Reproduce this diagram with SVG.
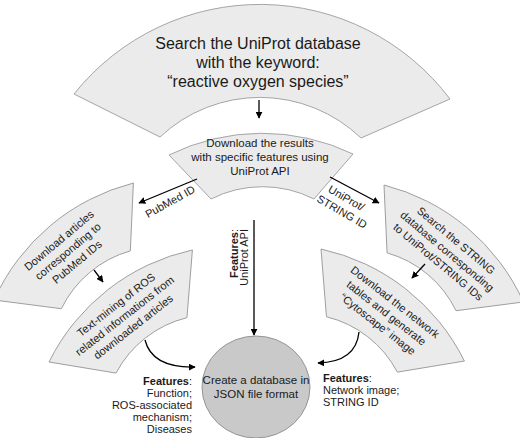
<svg xmlns="http://www.w3.org/2000/svg" width="520" height="438" viewBox="0 0 520 438">
<defs>
<style>
.shape{fill:#ebebeb;stroke:#9c9c9c;stroke-width:0.9}
.db{fill:#c9c9c9;stroke:#8c8c8c;stroke-width:0.9}
.t{font-family:"Liberation Sans",Arial,sans-serif;fill:#1a1a1a}
.big{font-size:16px;text-anchor:middle}
.mid{font-size:11.5px;text-anchor:middle}
.sm{font-size:11px;text-anchor:middle}
.lab{font-size:11px}
.b{font-weight:bold}
.c{fill:none;stroke:#000;stroke-width:1.3}
</style>
<marker id="ah" viewBox="0 0 10 10" refX="9" refY="5" markerWidth="7" markerHeight="7" markerUnits="userSpaceOnUse" orient="auto">
<path d="M0,0 L10,5 L0,10 Z" fill="#000"/>
</marker>
<path id="side" d="M0,0 A210,210 0 0 1 182,0 L136,50 A110,110 0 0 0 46,50 Z"/>
</defs>
<rect width="520" height="438" fill="#fff"/>

<g id="search">
<path class="shape" d="M74,94 A238,238 0 0 1 450,99 L361,138 A146,146 0 0 0 160,137 Z"/>
<text class="t big" x="258" y="49">Search the UniProt database</text>
<text class="t big" x="258" y="68">with the keyword:</text>
<text class="t big" x="258" y="87">“reactive oxygen species”</text>
</g>

<g id="download">
<path class="shape" d="M169,155 A210,210 0 0 1 353,154 L314,199 A114,114 0 0 0 211,199 Z"/>
<text class="t mid" x="260" y="147">Download the results</text>
<text class="t mid" x="260" y="161">with specific features using</text>
<text class="t mid" x="260" y="175">UniProt API</text>
</g>

<g id="articles" transform="translate(-6,300) rotate(-40)">
<use href="#side" class="shape"/>
<text class="t sm" x="88" y="0">Download articles</text>
<text class="t sm" x="88" y="14">corresponding to</text>
<text class="t sm" x="88" y="28">PubMed IDs</text>
</g>

<g id="textmining" transform="translate(49,362) rotate(-38)">
<use href="#side" class="shape"/>
<text class="t sm" x="88" y="0">Text-mining of ROS</text>
<text class="t sm" x="88" y="14">related informations from</text>
<text class="t sm" x="88" y="28">downloaded articles</text>
</g>

<g id="string" transform="translate(384,185) rotate(40)">
<use href="#side" class="shape"/>
<text class="t sm" x="91" y="0">Search the STRING</text>
<text class="t sm" x="91" y="14">database corresponding</text>
<text class="t sm" x="91" y="28">to UniProt/STRING IDs</text>
</g>

<g id="network" transform="translate(321,249) rotate(38)">
<use href="#side" class="shape"/>
<text class="t sm" x="91" y="0">Download the network</text>
<text class="t sm" x="91" y="14">tables and generate</text>
<text class="t sm" x="91" y="28">“Cytoscape” image</text>
</g>

<g id="database">
<ellipse class="db" cx="256" cy="387" rx="54" ry="51"/>
<text class="t mid" x="256" y="384">Create a database in</text>
<text class="t mid" x="256" y="398">JSON file format</text>
</g>

<g id="connectors">
<line class="c" x1="259" y1="100" x2="259" y2="118" marker-end="url(#ah)"/>
<line class="c" x1="197" y1="179" x2="139" y2="203" marker-end="url(#ah)"/>
<line class="c" x1="330" y1="177" x2="379" y2="203" marker-end="url(#ah)"/>
<line class="c" x1="254" y1="220" x2="254" y2="335" marker-end="url(#ah)"/>
<line class="c" x1="94" y1="270" x2="103" y2="282" marker-end="url(#ah)"/>
<line class="c" x1="425" y1="264" x2="412" y2="278" marker-end="url(#ah)"/>
<path class="c" d="M145,340 Q152,368 195,367" marker-end="url(#ah)"/>
<path class="c" d="M359,332 Q356,362 318,363" marker-end="url(#ah)"/>
</g>

<g id="labels">
<text class="t sm" transform="translate(172,205) rotate(-29)">PubMed ID</text>
<g transform="translate(343,204) rotate(30)">
<text class="t sm" x="0" y="-3">UniProt/</text>
<text class="t sm" x="3" y="11">STRING ID</text>
</g>
<text class="t lab" transform="translate(237.5,229) rotate(-90)" text-anchor="end"><tspan class="b">Features</tspan>:</text>
<text class="t lab" transform="translate(248,229) rotate(-90)" text-anchor="end">UniProt API</text>
<g text-anchor="end">
<text class="t lab" x="192" y="385"><tspan class="b">Features</tspan>:</text>
<text class="t lab" x="192" y="397">Function;</text>
<text class="t lab" x="192" y="409">ROS-associated</text>
<text class="t lab" x="192" y="421">mechanism;</text>
<text class="t lab" x="192" y="433">Diseases</text>
</g>
<text class="t lab" x="323" y="382"><tspan class="b">Features</tspan>:</text>
<text class="t lab" x="323" y="394">Network image;</text>
<text class="t lab" x="323" y="406">STRING ID</text>
</g>
</svg>
